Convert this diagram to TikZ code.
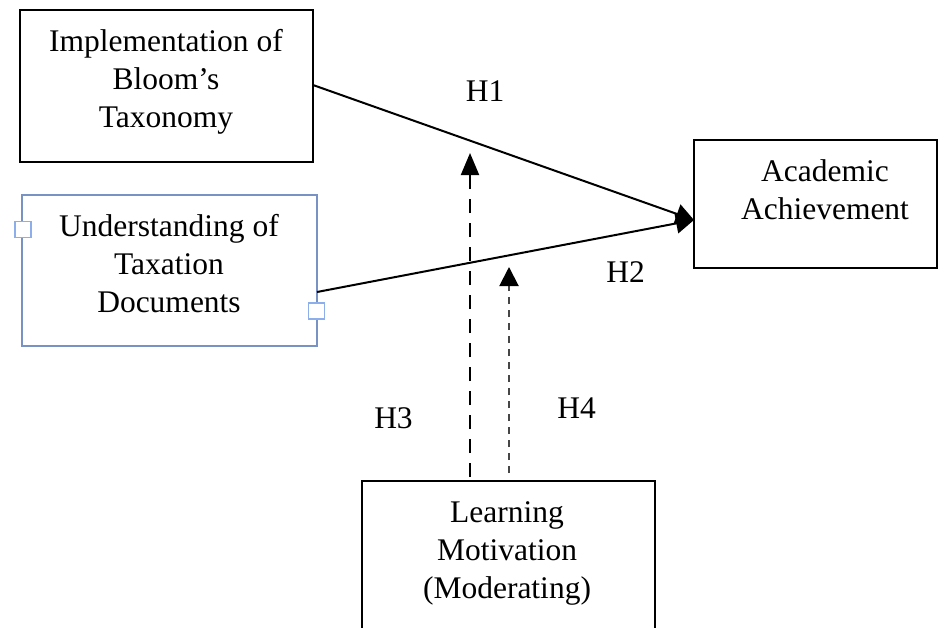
\documentclass[tikz,border=0pt]{standalone}
\usepackage{fontspec}
\setmainfont{Liberation Serif}
\usetikzlibrary{arrows.meta}
\definecolor{boxblue}{RGB}{121,146,196}
\definecolor{sqblue}{RGB}{140,175,235}
\definecolor{dashgray}{RGB}{70,70,70}
\tikzset{
  box/.style={draw=black, line width=2pt, rectangle, inner sep=0pt},
  bluebox/.style={draw=boxblue, line width=1.6pt, rectangle, inner sep=0pt},
  handle/.style={draw=sqblue, fill=white, line width=1.6pt, rectangle, minimum size=16pt, inner sep=0pt},
  txt/.style={font=\fontsize{31.5}{38}\selectfont, align=center, inner sep=0pt, anchor=base},
  hlab/.style={font=\fontsize{31.5}{38}\selectfont, inner sep=0pt, anchor=base},
  mainline/.style={line width=2pt, -{Triangle[length=18pt,width=20pt]}},
  modA/.style={line width=2pt, dash pattern=on 14pt off 10pt, -{Triangle[length=22pt,width=18pt]}},
  modB/.style={line width=2pt, draw=dashgray, dash pattern=on 7pt off 6pt, -{Triangle[length=19pt,width=19pt,color=black]}}
}
\begin{document}
\begin{tikzpicture}[x=1pt,y=-1pt]
\useasboundingbox (0,0) rectangle (944,627);
% boxes
\node[box, minimum width=293pt, minimum height=152pt] (b1) at (166.5,86) {};
\node[bluebox, minimum width=295pt, minimum height=151pt] (b2) at (169.5,270.5) {};
\node[box, minimum width=243pt, minimum height=128pt] (b3) at (815.5,204) {};
\node[box, minimum width=293pt, minimum height=170pt] (b4) at (508.5,566) {};
% texts (anchored at the baseline of the last line)
\node[txt] (t1) at (166,127) {Implementation of\\Bloom’s\\Taxonomy};
\node[txt] (t2) at (169,312) {Understanding of\\Taxation\\Documents};
\node[txt] (t3) at (825,219) {Academic\\Achievement};
\node[txt] (t4) at (507,598) {Learning\\Motivation\\(Moderating)};
% handles
\node[handle] (hl) at (23,229.5) {};
\node[handle] (hr) at (316.5,311) {};
% coordinates
\coordinate (s1) at (313,85);
\coordinate (s2) at (317,292);
\coordinate (tip) at (694,220);
\coordinate (m3s) at (470,477);
\coordinate (m3e) at (470,153);
\coordinate (m4s) at (509,473);
\coordinate (m4e) at (509,267);
% connectors
\draw[mainline] (s1) -- (tip);
\draw[mainline] (s2) -- (tip);
\draw[modA] (m3s) -- (m3e);
\draw[modB] (m4s) -- (m4e);
% labels
\node[hlab] (h1) at (485,101.5) {H1};
\node[hlab] (h2) at (625.5,282) {H2};
\node[hlab] (h3) at (393.5,428) {H3};
\node[hlab] (h4) at (576.5,418) {H4};
\end{tikzpicture}
\end{document}
